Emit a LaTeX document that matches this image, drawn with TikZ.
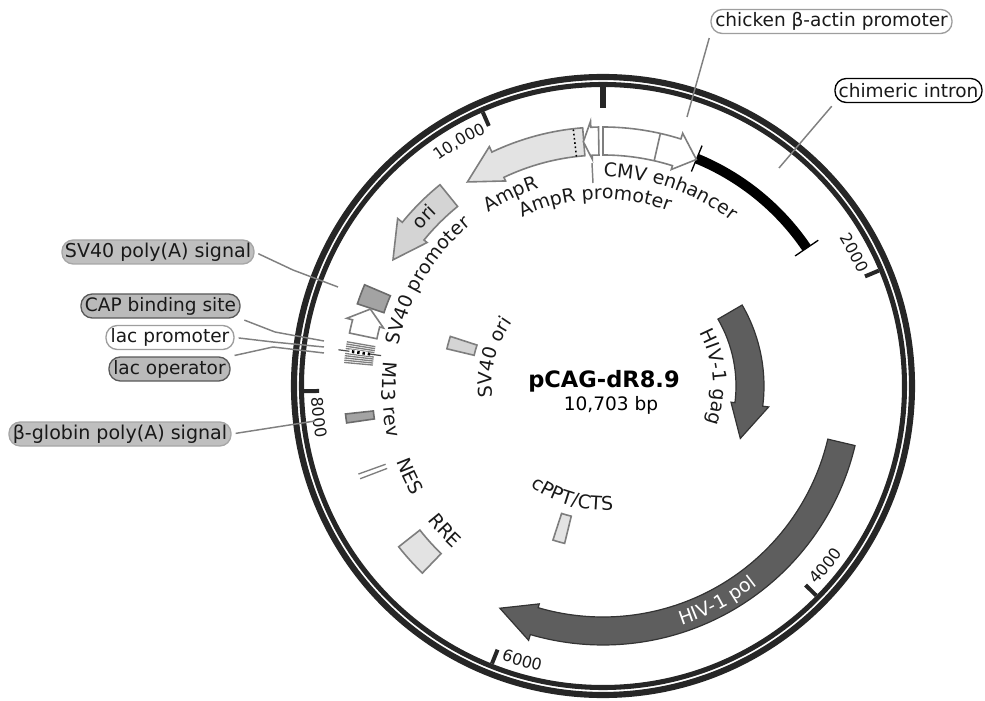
\documentclass[tikz,border=0pt]{standalone}
\usepackage{fontspec}
\setmainfont{DejaVu Sans}
\usetikzlibrary{decorations.text}
\definecolor{ringcol}{HTML}{262626}
\definecolor{genecol}{HTML}{5E5E5E}
\definecolor{strokecol}{HTML}{7E7E7E}
\tikzset{
  ring/.style={draw=ringcol},
  feat/.style={draw=strokecol,line width=1.2pt,line join=miter},
  featwhite/.style={feat,fill=white},
  featlight/.style={feat,fill=black!11},
  featmid/.style={feat,fill=black!17},
  featdark/.style={draw=black!58,line width=1.2pt,fill=black!36},
  gene/.style={draw=black!80,line width=0.9pt,fill=genecol},
  conn/.style={draw=black!50,line width=1.1pt,shorten <=3pt},
  tag/.style={rounded corners=8.5pt,inner sep=0pt,minimum height=18pt,font=\fontsize{13.9}{16}\selectfont,text=black!90,line width=1pt},
  tagwhite/.style={tag,draw=black!38,fill=white},
  taggrey/.style={tag,draw=black!35,fill=black!25,font=\fontsize{14.3}{16}\selectfont},
  tagdark/.style={tag,draw=black!65,fill=black!27}
}
% arc shapes, all angles and radii seen from the plasmid centre
\newcommand{\arcbox}[5]{\draw[#1] (#2:#5) arc (#2:#3:#5) -- (#3:#4) arc (#3:#2:#4) -- cycle;}
\newcommand{\arcarrow}[6]{%
  \pgfmathsetmacro{\rbarbout}{#6+6}\pgfmathsetmacro{\rbarbin}{#5-4}\pgfmathsetmacro{\rtip}{(#5+#6)/2}%
  \draw[#1] (#2:#6) arc (#2:#3:#6) -- (#3:\rbarbout) -- (#4:\rtip) -- (#3:\rbarbin) -- (#3:#5) arc (#3:#2:#5) -- cycle;}
% curved labels, cw = tops outward, ccw = tops inward
\newcommand{\labelcw}[4][black!90]{%
  \pgfmathsetmacro{\afrom}{#2+55}\pgfmathsetmacro{\ato}{#2-55}%
  \path[decorate,decoration={text along path,text color=#1,text align=center,text={|\fontsize{14.2}{16}\selectfont|#4}}] (\afrom:#3) arc (\afrom:\ato:#3);}
\newcommand{\labelccw}[4][black!90]{%
  \pgfmathsetmacro{\afrom}{#2-55}\pgfmathsetmacro{\ato}{#2+55}%
  \path[decorate,decoration={text along path,text color=#1,text align=center,text={|\fontsize{14.2}{16}\selectfont|#4}}] (\afrom:#3) arc (\afrom:\ato:#3);}
\newcommand{\tickcw}[3]{%
  \pgfmathsetmacro{\afrom}{#1+30}\pgfmathsetmacro{\ato}{#1-30}%
  \path[decorate,decoration={text along path,text color=black!90,text align=center,text={|\fontsize{12}{14}\selectfont|#3}}] (\afrom:#2) arc (\afrom:\ato:#2);}
\newcommand{\tickccw}[3]{%
  \pgfmathsetmacro{\afrom}{#1-30}\pgfmathsetmacro{\ato}{#1+30}%
  \path[decorate,decoration={text along path,text color=black!90,text align=center,text={|\fontsize{12}{14}\selectfont|#3}}] (\afrom:#2) arc (\afrom:\ato:#2);}

\begin{document}
\begin{tikzpicture}[x=0.75pt,y=0.75pt]
\useasboundingbox (-603,-314) rectangle (382,386);

% backbone
\draw[ring,line width=4.6pt] (0,0) circle (309);
\draw[ring,line width=3.8pt] (0,0) circle (301.5);
\draw[ring,line width=4.5pt] (90:299) -- (90:278);
\foreach \ang in {22.7,-44.5,-111.8,-179,-246.3}{
  \draw[ring,line width=3pt] (\ang:299) -- (\ang:284);
}
\tickcw{120.5}{279}{10{,}000}
\tickcw{28}{279}{2000}
\tickccw{-38.9}{292}{4000}
\tickccw{253.6}{292}{6000}
\tickccw{186.3}{292}{8000}

% outer row of features
\draw[line width=7.5pt] (67.6:246) arc (67.6:34.1:246);
\draw[line width=1pt] (67.6:232) -- (67.6:260);
\draw[line width=1pt] (34.1:232) -- (34.1:260);

\arcarrow{featlight}{94.5}{115.4}{123.6}{231}{259}
\draw[line width=1.2pt,dotted] (96.6:231) -- (96.6:259);
\arcarrow{featwhite}{91}{92.7}{94.6}{231}{259}
\arcarrow{featwhite}{90}{72.5}{67.6}{231}{259}
\draw[feat] (77.2:231) -- (77.2:259);
\arcarrow{featmid}{129}{140.8}{149}{231}{259}

\arcbox{featdark}{157}{161.5}{231}{259}
\arcarrow{featwhite}{168.2}{165.2}{161.7}{231}{259}

% lac region
\foreach \ang in {170.2,170.7,171.2,171.7,172.8,173.3,173.8,174.3,174.8}{
  \draw[draw=black!50,line width=1pt] (\ang:231) -- (\ang:260);
}
\draw[draw=black!70,line width=0.9pt] (172.2:224) -- (172.2:267);
\draw[white,line width=3pt] (172.2:235) -- (172.2:256);
\draw[line width=2.2pt,dash pattern=on 1.8pt off 2.2pt] (172.2:235) -- (172.2:256);

\arcbox{featdark}{186.2}{188.2}{231}{259}
\draw[feat,line width=1pt] (199.8:231) -- (199.8:260);
\draw[feat,line width=1pt] (200.9:231) -- (200.9:260);
\arcbox{featlight}{218.2}{226}{233}{260}

% inner row of features
\arcbox{featmid}{162}{166.6}{132.5}{160.5}
\arcbox{featlight}{252}{256.3}{134}{162}
\arcarrow{gene}{30.2}{-7.2}{-20.9}{133}{161}
\arcarrow{gene}{-13.3}{-106.3}{-114.9}{231}{259}

% curved names
\labelcw{71}{209}{CMV enhancer}
\labelcw{92.5}{187}{AmpR promoter}
\labelcw{115.7}{208}{AmpR}
\labelcw{136.6}{240}{ori}
\labelcw{149}{208}{SV40 promoter}
\labelccw{183.6}{221}{M13 rev}
\labelccw{204.9}{220}{NES}
\labelccw{222.5}{221}{RRE}
\labelcw{165.5}{111}{SV40 ori}
\labelcw{4.5}{110}{HIV-1 gag}
\labelccw[white]{-62}{252}{HIV-1 pol}
\labelccw{254.5}{124}{cPPT/CTS}

\node (title) at (1,5) {\fontsize{16.9}{20}\selectfont\bfseries pCAG-dR8.9};
\node (size) at (8,-19) {\fontsize{13.9}{16}\selectfont 10,703 bp};

% callouts
\node[tagwhite,minimum width=180.75pt] (chicken) at (228.5,364.5) {chicken β-actin promoter};
\node[tagwhite,draw=black,minimum width=110.25pt] (chimeric) at (305.5,295.5) {chimeric intron};
\node[taggrey,minimum width=144pt] (polyA) at (-445,134) {SV40 poly(A) signal};
\node[tagdark,minimum width=119.25pt] (cap) at (-442.5,80) {CAP binding site};
\node[tagwhite,minimum width=96pt] (lacp) at (-433,48.5) {lac promoter};
\node[tagdark,minimum width=90.75pt] (laco) at (-433.5,17) {lac operator};
\node[taggrey,minimum width=166.5pt] (globin) at (-483,-48) {β-globin poly(A) signal};

\coordinate (chickenend) at (84,269);
\coordinate (chimericend) at (176,218);
\coordinate (polyAend) at (-265,99);
\coordinate (capend) at (-279,45);
\coordinate (lacpend) at (-279,39);
\coordinate (lacoend) at (-279,33);
\coordinate (globinend) at (-288,-35);
\coordinate (ampstart) at (-11,223);
\coordinate (ampend) at (-10,203);

\draw[conn] (chicken.south west) -- (chickenend);
\draw[conn] (chimeric.south west) -- (chimericend);
\draw[conn] (polyA.east) -- (-310,116) -- (polyAend);
\draw[conn] (cap.south east) -- (-328,54) -- (capend);
\draw[conn] (lacp.east) -- (-330,44) -- (lacpend);
\draw[conn] (laco.north east) -- (-330,39) -- (lacoend);
\draw[conn] (globin.east) -- (globinend);
\draw[conn,shorten <=0pt] (ampstart) -- (ampend);
\end{tikzpicture}
\end{document}
